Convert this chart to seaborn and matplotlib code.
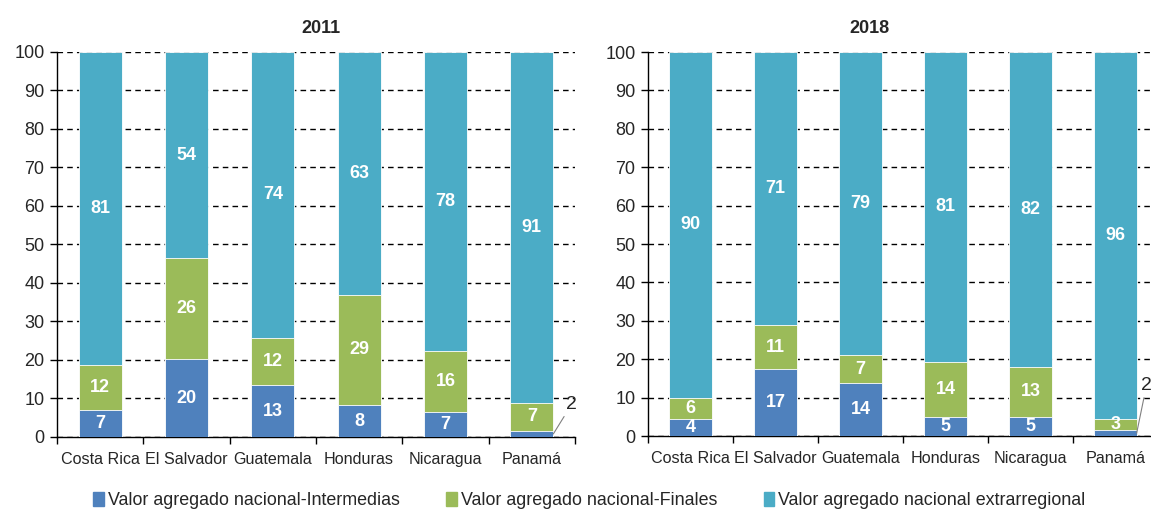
import numpy as np
import pandas as pd
import matplotlib.pyplot as plt
import seaborn as sns
from matplotlib.patches import Patch

countries = ["Costa Rica", "El Salvador", "Guatemala", "Honduras", "Nicaragua", "Panamá"]

# 2011
int_2011 = [7.0, 20.2, 13.4, 8.3, 6.6, 1.6]
fin_2011 = [11.7, 26.2, 12.4, 28.7, 15.7, 7.2]
ext_2011 = [81.3, 53.6, 74.2, 63.0, 77.7, 91.2]

# 2018
int_2018 = [4.4, 17.4, 13.7, 5.0, 5.0, 1.5]
fin_2018 = [5.6, 11.4, 7.3, 14.4, 13.0, 3.0]
ext_2018 = [90.0, 71.2, 79.0, 80.6, 82.0, 95.5]

series_names = ["Valor agregado nacional-Intermedias",
                "Valor agregado nacional-Finales",
                "Valor agregado nacional extrarregional"]
blue, green, teal = "#4F81BD", "#9BBB59", "#4BACC6"

sns.set_style("white")
plt.rcParams['font.family'] = ['Liberation Sans', 'DejaVu Sans']


def draw(ax, year, ints, fins, exts, title_x, small_offset):
    df = pd.DataFrame({"pais": countries, "int": ints, "fin": fins, "ext": exts})
    lvl1 = df["int"]
    lvl2 = lvl1 + df["fin"]
    lvl3 = lvl2 + df["ext"]
    for top, col in [(lvl3, teal), (lvl2, green), (lvl1, blue)]:
        sns.barplot(x=df["pais"], y=top, color=col, width=0.5, saturation=1,
                    edgecolor="white", linewidth=0.6, ax=ax, zorder=3)

    # labels in the middle of each segment
    for i in range(len(df)):
        bottoms = [0, lvl1[i], lvl2[i]]
        vals = [df["int"][i], df["fin"][i], df["ext"][i]]
        for b, v in zip(bottoms, vals):
            if v < 2.5:
                ax.annotate(f"{round(v):.0f}", xy=(i + 0.25, b + v / 2),
                            xytext=small_offset, textcoords="offset points",
                            ha="center", va="center", fontsize=14, zorder=5,
                            arrowprops=dict(arrowstyle="-", color="gray", lw=0.8,
                                            shrinkA=0, shrinkB=0))
            else:
                ax.text(i, b + v / 2, f"{round(v):.0f}", ha="center", va="center",
                        color="white", fontweight="bold", fontsize=13, zorder=4)

    ax.set_xlim(-0.5, 5.5)
    ax.set_ylim(0, 100)
    ax.set_yticks(range(0, 101, 10))
    ax.set_xlabel("")
    ax.set_ylabel("")
    ax.yaxis.grid(True, linestyle=(0, (4, 3)), color="black", linewidth=1)
    ax.xaxis.grid(False)
    ax.set_axisbelow(True)
    ax.set_xticks(np.arange(-0.5, 6, 1), minor=True)
    ax.tick_params(axis="x", which="major", length=0, labelsize=11.6, pad=11)
    ax.tick_params(axis="x", which="minor", length=5, width=1, color="black",
                   direction="out", bottom=True)
    ax.tick_params(axis="y", which="major", length=5, width=1, color="black",
                   direction="out", labelsize=13, pad=4, left=True)
    for s in ["top", "right"]:
        ax.spines[s].set_visible(False)
    for s in ["left", "bottom"]:
        ax.spines[s].set_color("black")
        ax.spines[s].set_linewidth(1)
    ax.set_title(year, fontweight="bold", fontsize=13, pad=14, x=title_x)


fig = plt.figure(figsize=(11.51, 5.12), dpi=100)
ax1 = fig.add_axes([0.0495, 0.1465, 0.450, 0.752])
ax2 = fig.add_axes([0.563, 0.1484, 0.443, 0.750])

draw(ax1, "2011", int_2011, fin_2011, ext_2011, 0.51, (13, 21))
draw(ax2, "2018", int_2018, fin_2018, ext_2018, 0.435, (7, 34))

handles = [Patch(color=c) for c in [blue, green, teal]]
fig.legend(handles, series_names, loc="center", bbox_to_anchor=(0.512, 0.022),
           ncol=3, frameon=False, fontsize=12.9, handlelength=0.6, handleheight=0.8,
           handletextpad=0.2, columnspacing=2.6, borderaxespad=0, borderpad=0)

fig.savefig("out.png", dpi=100)
